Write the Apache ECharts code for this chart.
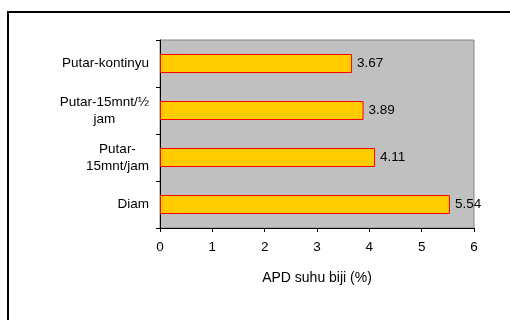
<!DOCTYPE html>
<html>
<head>
<meta charset="utf-8">
<script src="https://cdn.jsdelivr.net/npm/echarts@6/dist/echarts.min.js"></script>
<style>
  html, body { margin: 0; padding: 0; background: #fff; }
  #chart { width: 510px; height: 320px; }
</style>
</head>
<body>
<div id="chart"></div>
<script>
// Treatment categories (bottom to top on the axis)
const categories = ['Diam', 'Putar-\n15mnt/jam', 'Putar-15mnt/½\njam', 'Putar-kontinyu'];
// APD of grain temperature, percent
const apdValues = [5.54, 4.11, 3.89, 3.67];
// Value axis ticks
const xTicks = [0, 1, 2, 3, 4, 5, 6];
const xAxisTitle = 'APD suhu biji (%)';

const FONT = '"Liberation Sans", Arial, sans-serif';
const FS = 13.5;

const chart = echarts.init(document.getElementById('chart'), null, { renderer: 'canvas' });
chart.setOption({
  animation: false,
  backgroundColor: '#ffffff',
  graphic: [
    {
      type: 'rect',
      shape: { x: 8, y: 12, width: 620, height: 420 },
      style: { fill: null, stroke: '#000', lineWidth: 2 },
      silent: true,
      z: 0
    }
  ],
  grid: {
    left: 160, right: 36, top: 40, bottom: 92,
    show: true,
    backgroundColor: '#c0c0c0',
    borderColor: '#858585',
    borderWidth: 1
  },
  xAxis: {
    type: 'value',
    min: xTicks[0],
    max: xTicks[xTicks.length - 1],
    interval: 1,
    name: xAxisTitle,
    nameLocation: 'middle',
    nameGap: 43,
    nameTextStyle: { color: '#000', fontSize: 14, fontFamily: FONT },
    axisLine: { show: true, lineStyle: { color: '#000', width: 1 } },
    axisTick: { show: true, length: 4, lineStyle: { color: '#000' } },
    axisLabel: { color: '#000', fontSize: FS, fontFamily: FONT, margin: 12 },
    splitLine: { show: false }
  },
  yAxis: {
    type: 'category',
    data: categories,
    axisLine: { show: true, lineStyle: { color: '#000', width: 1 } },
    axisTick: { show: true, length: 4, alignWithLabel: false, lineStyle: { color: '#000' } },
    axisLabel: {
      color: '#000', fontSize: FS, fontFamily: FONT, margin: 11,
      lineHeight: 17,
      formatter: v => '{c|' + v.split('\n').join('}\n{c|') + '}',
      rich: { c: { align: 'center', fontSize: FS, fontFamily: FONT, color: '#000', lineHeight: 17 } }
    },
    splitLine: { show: false }
  },
  series: [
    {
      type: 'bar',
      data: apdValues,
      barWidth: 19,
      itemStyle: { color: '#ffcc00', borderColor: '#ff0000', borderWidth: 1 },
      label: {
        show: true,
        position: 'right',
        distance: 5,
        color: '#000',
        fontSize: FS,
        fontFamily: FONT,
        formatter: p => p.value.toFixed(2)
      }
    }
  ]
});
</script>
</body>
</html>
